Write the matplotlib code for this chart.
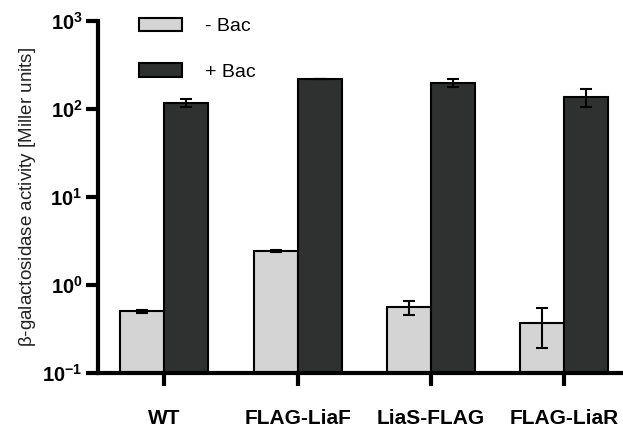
import matplotlib
matplotlib.use("Agg")
import matplotlib.pyplot as plt
import numpy as np

plt.rcParams["font.family"] = ["Liberation Sans", "DejaVu Sans"]
plt.rcParams["mathtext.fontset"] = "custom"
plt.rcParams["mathtext.rm"] = "Liberation Sans"
plt.rcParams["mathtext.bf"] = "Liberation Sans:bold"

strains = ["WT", "FLAG-LiaF", "LiaS-FLAG", "FLAG-LiaR"]
minus_bac = [0.50, 2.43, 0.56, 0.37]
minus_err = [0.02, 0.06, 0.10, 0.18]
plus_bac = [118, 221, 199, 138]
plus_err = [11, 2, 21, 33]
yticks = [0.1, 1, 10, 100, 1000]
ytick_labels = [r"$\mathbf{10^{-1}}$", r"$\mathbf{10^{0}}$", r"$\mathbf{10^{1}}$",
                r"$\mathbf{10^{2}}$", r"$\mathbf{10^{3}}$"]

fig = plt.figure(figsize=(6.23, 4.33), dpi=100)
ax = fig.add_axes([0.157, 0.139, 0.843, 0.812])

x = np.arange(len(strains))
w = 0.33
ax.bar(x - w / 2, minus_bac, w, color="#d4d4d4", edgecolor="black", linewidth=1.5,
       label="- Bac", zorder=2)
ax.bar(x + w / 2, plus_bac, w, color="#2f3131", edgecolor="black", linewidth=1.5,
       label="+ Bac", zorder=2)
ax.errorbar(x - w / 2, minus_bac, yerr=minus_err, fmt="none", ecolor="black",
            elinewidth=1.5, capsize=4.5, capthick=1.5, zorder=3)
ax.errorbar(x + w / 2, plus_bac, yerr=plus_err, fmt="none", ecolor="black",
            elinewidth=1.5, capsize=4.5, capthick=1.5, zorder=3)

ax.set_yscale("log")
ax.set_ylim(0.1, 1000)
ax.set_xlim(-0.5, 3.44)
ax.set_yticks(yticks)
ax.set_yticklabels(ytick_labels, fontsize=14.5)
ax.yaxis.set_minor_locator(matplotlib.ticker.NullLocator())
ax.set_xticks(x)
ax.set_xticklabels(strains, fontsize=15, fontweight="bold")

for s in ["top", "right"]:
    ax.spines[s].set_visible(False)
for s in ["left", "bottom"]:
    ax.spines[s].set_linewidth(3)
ax.tick_params(axis="y", direction="out", length=9, width=3, pad=2)
ax.tick_params(axis="x", direction="out", length=9, width=3, pad=17)

ax.set_ylabel(r"$\mathrm{\beta}$-galactosidase activity [Miller units]",
              fontsize=13.5, color="#222222", labelpad=3)

ax.legend(loc="upper left", bbox_to_anchor=(0.045, 1.06), frameon=False, fontsize=14,
          handlelength=2.2, handleheight=0.7, labelspacing=1.45, handletextpad=1.2)

fig.savefig("out.png", dpi=100)
